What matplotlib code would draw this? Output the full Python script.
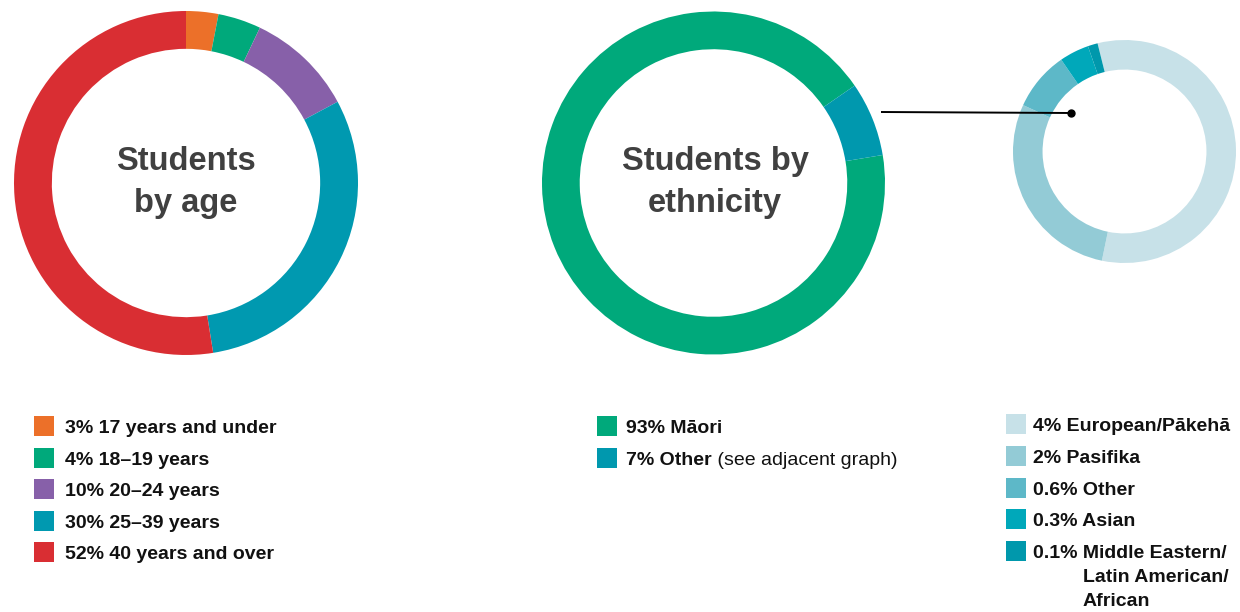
import matplotlib
matplotlib.use("Agg")
import matplotlib.pyplot as plt

# --- data -------------------------------------------------------------
age_labels = ["17 years and under", "18\u201319 years", "20\u201324 years",
              "25\u201339 years", "40 years and over"]
age_values = [3, 4, 10, 30, 52]
age_colors = ["#EC7029", "#00A97B", "#8760A9", "#0099B0", "#D92E33"]

eth_labels = ["M\u0101ori", "Other"]
eth_values = [93, 7]
eth_colors = ["#00A97B", "#0098AE"]

other_labels = ["European/P\u0101keh\u0101", "Pasifika", "Other", "Asian",
                "Middle Eastern/\nLatin American/\nAfrican"]
other_values = [4, 2, 0.6, 0.3, 0.1]
other_colors = ["#C7E1E8", "#93CBD6", "#5DB8C8", "#00A8BA", "#0098AC"]

# --- figure ----------------------------------------------------------
W, H = 1240, 612
fig = plt.figure(figsize=(W / 100, H / 100), dpi=100)
ax = fig.add_axes([0, 0, 1, 1])

TITLE_FONT = ["Liberation Sans", "DejaVu Sans"]
LEG_FONT = ["Liberation Sans", "DejaVu Sans"]
LEG_SIZE = 14


def Y(y):
    """Convert a top-down pixel row to the axes' bottom-up coordinate."""
    return H - y


def donut(values, colors, cx, cy, r, width, start):
    ax.pie(values, colors=colors, center=(cx, Y(cy)), radius=r,
           startangle=start, counterclock=False,
           wedgeprops=dict(width=r * width, linewidth=0))


donut(age_values, age_colors, 186, 183, 172, 0.22, 90)
donut(eth_values, eth_colors, 713.5, 183, 171.5, 0.22, 9.4)
donut(other_values, other_colors, 1124.5, 151.5, 111.5, 0.265, 104)

ax.set_xlim(0, W)
ax.set_ylim(0, H)
ax.set_aspect("equal")
ax.axis("off")

# two-line centre titles, placed by baseline
title_kw = dict(ha="center", va="baseline", fontsize=23.5, fontweight="bold",
                color="#404040", family=TITLE_FONT)
for cx, (l1, l2) in [(186, ("Students", "by age")),
                     (715, ("Students by", "ethnicity"))]:
    ax.text(cx, Y(170), l1, **title_kw)
    ax.text(cx, Y(212), l2, **title_kw)

# connector from the "Other" wedge to the breakdown donut
ax.plot([881, 1071], [Y(112), Y(113)], color="black", lw=1.4,
        solid_capstyle="butt")
ax.plot([1071], [Y(113)], marker="o", ms=5, color="black")

renderer = fig.canvas.get_renderer()


def legend_block(x_sq, x_txt, y0, dy, values, labels, colors, fmt,
                 suffix=None):
    txt_kw = dict(ha="left", va="baseline", fontsize=LEG_SIZE,
                  family=LEG_FONT, color="#111111")
    for i, (v, lab, c) in enumerate(zip(values, labels, colors)):
        yc = y0 + i * dy
        base = yc + 7
        ax.add_patch(plt.Rectangle((x_sq, Y(yc + 10)), 20, 20, color=c,
                                   lw=0))
        lines = lab.split("\n")
        t = ax.text(x_txt, Y(base), fmt(v) + " " + lines[0],
                    fontweight="bold", **txt_kw)
        if len(lines) > 1:
            pre = ax.text(x_txt, Y(base), fmt(v) + " ", fontweight="bold",
                          alpha=0, **txt_kw)
            bb = pre.get_window_extent(renderer)
            for j, extra in enumerate(lines[1:], start=1):
                ax.text(x_txt + bb.width, Y(base + j * 24), extra,
                        fontweight="bold", **txt_kw)
        if suffix and i in suffix:
            bb = t.get_window_extent(renderer)
            ax.text(x_txt + bb.width, Y(base), suffix[i], **txt_kw)


pct = lambda v: f"{v:g}%"

legend_block(34, 65, 426, 31.6, age_values, age_labels, age_colors, pct)
legend_block(597, 626, 426, 31.6, eth_values, eth_labels, eth_colors,
             pct, suffix={1: " (see adjacent graph)"})
legend_block(1006, 1033, 424, 31.8, other_values, other_labels,
             other_colors, pct)

fig.savefig("out.png", dpi=100)
